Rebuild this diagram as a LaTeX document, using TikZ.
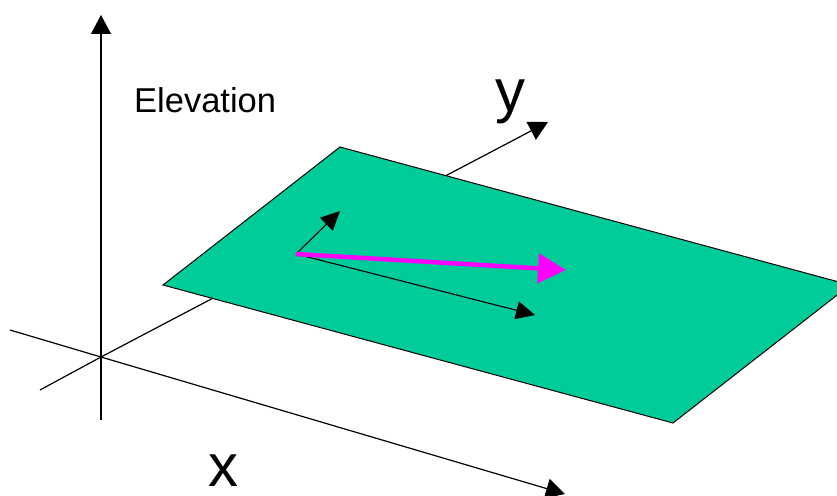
\documentclass[tikz,border=0pt]{standalone}
\usepackage{fontspec}
\setmainfont{Liberation Sans}
\usetikzlibrary{arrows.meta}
\definecolor{planegreen}{RGB}{0,204,153}
\definecolor{vecmagenta}{RGB}{255,0,255}
\begin{document}
\begin{tikzpicture}[x=1pt,y=-1pt,
  axisline/.style={line width=1.2pt,-{Triangle[length=19pt,width=20pt]}},
  plainline/.style={line width=1.2pt},
  vecline/.style={line width=1.1pt,-{Triangle[length=19pt,width=18pt]}},
  magvec/.style={line width=4.5pt,vecmagenta,-{Triangle[length=28pt,width=29pt]}},
  plane/.style={fill=planegreen,draw=black,line width=1pt,line join=miter},
  biglabel/.style={font=\fontsize{60}{60}\selectfont,inner sep=0pt,anchor=base west},
  smalllabel/.style={font=\fontsize{34.5}{40}\selectfont,inner sep=0pt,anchor=base west}]
\useasboundingbox (0,0) rectangle (837,495);
\clip (0,0) rectangle (837,495);
% axes coordinates
\coordinate (O) at (101,357);
\coordinate (zbot) at (101,420);
\coordinate (ztop) at (101,15);
\coordinate (xstart) at (10,330);
\coordinate (xend) at (565,494);
\coordinate (ystart) at (40,390);
\coordinate (yend) at (548,122);
% axes
\draw[axisline] (zbot) -- (ztop);
\draw[plainline] (xstart) -- (O);
\draw[axisline] (O) -- (xend);
\draw[plainline] (ystart) -- (O);
\draw[axisline] (O) -- (yend);
% plane
\coordinate (pA) at (163,285);
\coordinate (pB) at (340,147);
\coordinate (pC) at (850,285);
\coordinate (pD) at (673,423);
\draw[plane] (pA) -- (pB) -- (pC) -- (pD) -- cycle;
% vectors on plane
\coordinate (P) at (296,254);
\coordinate (vshort) at (340,211);
\coordinate (vlong) at (535,315);
\coordinate (vmag) at (566,270);
\draw[vecline] (P) -- (vshort);
\draw[vecline] (P) -- (vlong);
\draw[magvec] (P) -- (vmag);
% labels
\node[smalllabel] (elev) at (134,112) {Elevation};
\node[biglabel] (ylab) at (495,111) {y};
\node[biglabel] (xlab) at (208,486) {x};
\end{tikzpicture}
\end{document}
